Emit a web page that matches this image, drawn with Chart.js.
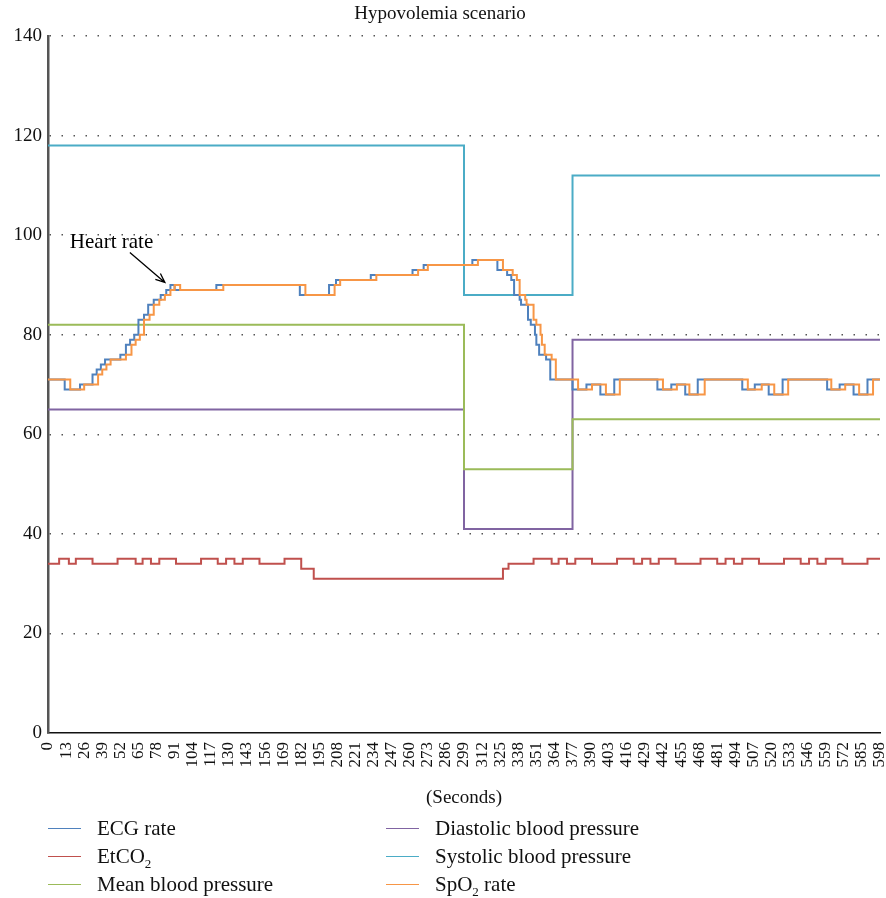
<!DOCTYPE html>
<html>
<head>
<meta charset="utf-8">
<script src="https://cdn.jsdelivr.net/npm/chart.js@4.4.1/dist/chart.umd.min.js"></script>
<style>
  html, body { margin: 0; padding: 0; background: #fff; }
  #wrap { position: relative; width: 886px; height: 898px; }
  #legend { position: absolute; left: 0; top: 0; font-family: "Liberation Serif", serif; font-size: 21px; color: #111; }
  .item { position: absolute; white-space: nowrap; line-height: 24px; }
  .item i { position: absolute; top: 12px; width: 33px; height: 0; border-top: 1.5px solid; }
  .item span { position: absolute; left: 49px; top: 0; }
  sub { font-size: 13px; vertical-align: -5px; line-height: 0; }
</style>
</head>
<body>
<div id="wrap">
  <canvas id="chart" width="886" height="898"></canvas>
  <div id="legend"></div>
</div>
<script>
// change points (seconds) and the value that holds from that second on
const xMax = 598
const xStep = 13
const yTicks = [0, 20, 40, 60, 80, 100, 120, 140]

const ecgTimes = [0, 12, 23, 32, 35, 38, 41, 52, 56, 59, 62, 65, 69, 72, 76, 81, 85, 88, 91, 121,
  181, 202, 207, 232, 262, 270, 305, 323, 330, 333, 335, 339, 340, 345, 347, 350, 351, 353, 358, 361,
  377, 387, 397, 407, 438, 448, 458, 467, 499, 508, 518, 528, 560, 569, 579, 589]
const ecgValues = [71, 69, 70, 72, 73, 74, 75, 76, 78, 79, 80, 83, 84, 86, 87, 88, 89, 90, 89, 90,
  88, 90, 91, 92, 93, 94, 95, 93, 92, 91, 88, 87, 86, 83, 82, 80, 78, 76, 75, 71,
  69, 70, 68, 71, 69, 70, 68, 71, 69, 70, 68, 71, 69, 70, 68, 71]

const spo2Times = [0, 16, 26, 36, 39, 42, 45, 56, 60, 63, 66, 69, 73, 76, 80, 84, 88, 91, 95, 126,
  185, 206, 210, 236, 266, 273, 309, 327, 334, 337, 339, 343, 344, 349, 351, 354, 355, 357, 362, 365,
  381, 391, 401, 411, 442, 452, 461, 472, 503, 513, 522, 532, 563, 573, 583, 593]
const spo2Values = [71, 69, 70, 72, 73, 74, 75, 76, 78, 79, 80, 83, 84, 86, 87, 88, 89, 90, 89, 90,
  88, 90, 91, 92, 93, 94, 95, 93, 92, 91, 88, 87, 86, 83, 82, 80, 78, 76, 75, 71,
  69, 70, 68, 71, 69, 70, 68, 71, 69, 70, 68, 71, 69, 70, 68, 71]

const etco2Times = [0, 8, 15, 20, 32, 50, 63, 68, 74, 80, 92, 110, 122, 128, 134, 140, 152, 170, 182, 191,
  327, 331, 349, 362, 367, 373, 379, 391, 409, 421, 427, 433, 439, 451, 469, 481, 487, 493, 499, 511,
  529, 541, 547, 553, 559, 571, 589]
const etco2Values = [34, 35, 34, 35, 34, 35, 34, 35, 34, 35, 34, 35, 34, 35, 34, 35, 34, 35, 33, 31,
  33, 34, 35, 34, 35, 34, 35, 34, 35, 34, 35, 34, 35, 34, 35, 34, 35, 34, 35, 34,
  35, 34, 35, 34, 35, 34, 35]

const bpTimes = [0, 299, 377]
const systolicValues = [118, 88, 112]
const meanValues = [82, 53, 63]
const diastolicValues = [65, 41, 79]

const series = [
  { label: 'SpO<sub>2</sub> rate', times: spo2Times, values: spo2Values, color: '#f79646' },
  { label: 'ECG rate', times: ecgTimes, values: ecgValues, color: '#4f81bd' },
  { label: 'EtCO<sub>2</sub>', times: etco2Times, values: etco2Values, color: '#c0504d' },
  { label: 'Systolic blood pressure', times: bpTimes, values: systolicValues, color: '#4bacc6' },
  { label: 'Mean blood pressure', times: bpTimes, values: meanValues, color: '#9bbb59' },
  { label: 'Diastolic blood pressure', times: bpTimes, values: diastolicValues, color: '#8064a2' },
]

function steps(times, values) {
  const pts = times.map((t, i) => ({ x: t, y: values[i] }))
  pts.push({ x: xMax, y: values[values.length - 1] })
  return pts
}

const serif = '"Liberation Serif", "Times New Roman", serif'

// "Heart rate" callout pointing at the top of the rising step
const heartRate = {
  id: 'heartRate',
  afterDatasetsDraw(chart) {
    const { ctx, scales: { x, y } } = chart
    const tx = x.getPixelForValue(84), ty = y.getPixelForValue(90.5)
    const sx = tx - 35, sy = ty - 30
    ctx.save()
    ctx.strokeStyle = '#000'
    ctx.lineWidth = 1.3
    ctx.beginPath()
    ctx.moveTo(sx, sy)
    ctx.lineTo(tx, ty)
    const a = Math.atan2(ty - sy, tx - sx)
    ctx.moveTo(tx - 10 * Math.cos(a - 0.4), ty - 10 * Math.sin(a - 0.4))
    ctx.lineTo(tx, ty)
    ctx.lineTo(tx - 10 * Math.cos(a + 0.4), ty - 10 * Math.sin(a + 0.4))
    ctx.stroke()
    ctx.fillStyle = '#000'
    ctx.font = '21px ' + serif
    ctx.textBaseline = 'alphabetic'
    ctx.fillText('Heart rate', tx - 95, ty - 34)
    ctx.restore()
  }
}

new Chart(document.getElementById('chart'), {
  type: 'line',
  data: {
    datasets: series.map(s => ({
      label: s.label,
      data: steps(s.times, s.values),
      borderColor: s.color,
      backgroundColor: s.color,
      borderWidth: 2,
      stepped: 'before',
      pointRadius: 0,
      fill: false,
    }))
  },
  options: {
    responsive: false,
    animation: false,
    layout: { padding: { left: 0, right: 6, top: 0, bottom: 89 } },
    plugins: {
      legend: { display: false },
      tooltip: { enabled: false },
      title: {
        display: true,
        text: 'Hypovolemia scenario',
        color: '#111',
        font: { family: serif, size: 19, weight: 'normal' },
        padding: { top: 3, bottom: 10.2 },
      },
    },
    scales: {
      x: {
        type: 'linear',
        min: 0,
        max: xMax,
        grid: { display: false },
        border: { display: true, color: '#111', width: 1.5 },
        ticks: {
          stepSize: xStep,
          maxTicksLimit: 100,
          autoSkip: false,
          minRotation: 90,
          maxRotation: 90,
          padding: 1,
          color: '#111',
          font: { family: serif, size: 17 },
        },
        title: {
          display: true,
          text: '(Seconds)',
          color: '#111',
          font: { family: serif, size: 19 },
          padding: { top: 0, bottom: 0 },
        },
        afterFit(scale) {
          scale.height = 76
          scale.paddingLeft = 0
          scale.paddingRight = 6
        },
      },
      y: {
        min: 0,
        max: 140,
        afterBuildTicks(scale) { scale.ticks = yTicks.map(v => ({ value: v })) },
        grid: {
          drawTicks: false,
          color: ctx => ctx.tick && ctx.tick.value === 0 ? 'rgba(0,0,0,0)' : '#555',
          lineWidth: 1.5,
        },
        border: { display: true, color: '#555', width: 2.5, dash: [1.5, 10.5] },
        ticks: {
          padding: 6,
          color: '#111',
          font: { family: serif, size: 19 },
        },
        afterFit(scale) { scale.width = 48 },
      },
    },
  },
  plugins: [heartRate],
})

// two-column legend, same layout as the original figure
const legendOrder = ['ECG rate', 'EtCO<sub>2</sub>', 'Mean blood pressure',
  'Diastolic blood pressure', 'Systolic blood pressure', 'SpO<sub>2</sub> rate']
const legendEl = document.getElementById('legend')
legendOrder.forEach((name, i) => {
  const s = series.find(d => d.label === name)
  const col = Math.floor(i / 3), row = i % 3
  const div = document.createElement('div')
  div.className = 'item'
  div.style.left = (48 + col * 338) + 'px'
  div.style.top = (816 + row * 28) + 'px'
  div.innerHTML = '<i style="border-color:' + s.color + '"></i><span>' + s.label + '</span>'
  legendEl.appendChild(div)
})
</script>
</body>
</html>
